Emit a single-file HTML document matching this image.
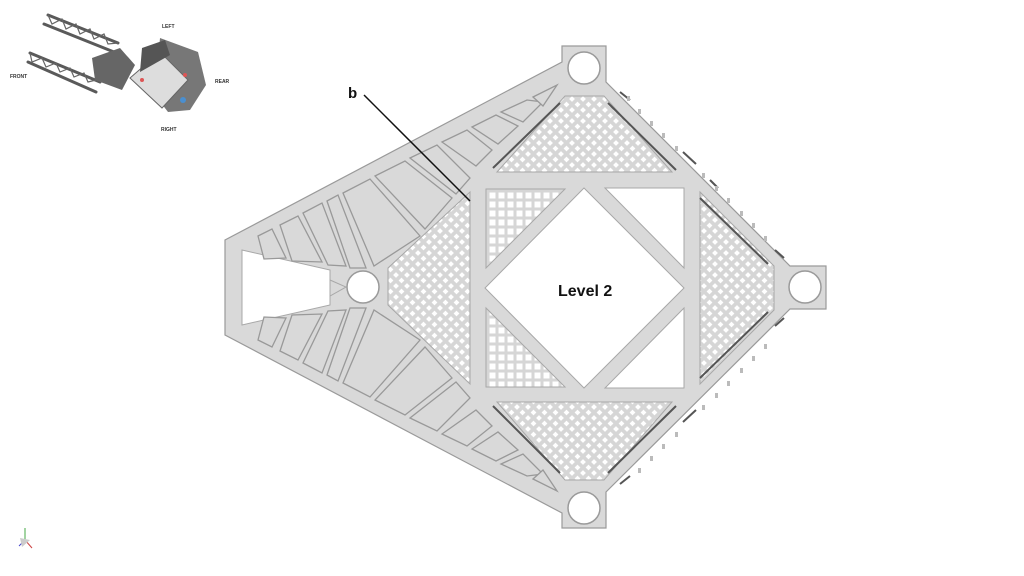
<!DOCTYPE html>
<html><head><style>
html,body{margin:0;padding:0;background:#fff;}
svg{display:block;}
text{font-family:"Liberation Sans",sans-serif;}
</style></head><body>
<svg width="1024" height="576" viewBox="0 0 1024 576" xmlns="http://www.w3.org/2000/svg">
<defs>
<pattern id="dia" width="11" height="11" patternUnits="userSpaceOnUse">
<rect width="11" height="11" fill="#d6d6d6"/>
<polygon points="5.5,2.6 8.4,5.5 5.5,8.4 2.6,5.5" fill="#fff"/>
<polygon points="0,-2.9 2.9,0 0,2.9 -2.9,0" fill="#fff"/>
<polygon points="11,-2.9 13.9,0 11,2.9 8.1,0" fill="#fff"/>
<polygon points="0,8.1 2.9,11 0,13.9 -2.9,11" fill="#fff"/>
<polygon points="11,8.1 13.9,11 11,13.9 8.1,11" fill="#fff"/>
</pattern>
<pattern id="sq" x="488" y="191" width="9" height="9" patternUnits="userSpaceOnUse">
<rect width="9" height="9" fill="#d6d6d6"/>
<rect x="1.5" y="1.5" width="6" height="6" fill="#fff"/>
</pattern>
</defs>

<polygon points="562,46 606,46 606,82 790,266 826,266 826,309 790,309 606,492 606,528 562,528 562,513 225,335 225,240 562,62" fill="#d9d9d9" stroke="#9a9a9a" stroke-width="1.2"/>

<polygon points="584,188 684,288 584,388 485,288" fill="#fff" stroke="#a8a8a8"/>
<polygon points="605,188 684,188 684,268" fill="#fff" stroke="#a8a8a8"/>
<polygon points="684,308 684,388 605,388" fill="#fff" stroke="#a8a8a8"/>
<polygon points="242,250 330,270 330,305 242,325" fill="#fff" stroke="#a8a8a8"/>
<polygon points="330,280 346,287 330,296" fill="#d9d9d9" stroke="#a8a8a8"/>

<polygon points="486,189 565,189 486,268" fill="url(#sq)" stroke="#a8a8a8"/>
<polygon points="486,308 486,387 565,387" fill="url(#sq)" stroke="#a8a8a8"/>

<polygon points="497,172 672,172 604,96 565,96" fill="url(#dia)" stroke="#a8a8a8"/>
<polygon points="700,192 700,384 774,310 774,266" fill="url(#dia)" stroke="#a8a8a8"/>
<polygon points="497,402 672,402 604,480 565,480" fill="url(#dia)" stroke="#a8a8a8"/>
<polygon points="470,192 470,384 388,305 388,268" fill="url(#dia)" stroke="#a8a8a8"/>

<g stroke="#555" stroke-width="2">
<line x1="493" y1="168" x2="560" y2="103"/>
<line x1="608" y1="103" x2="676" y2="170"/>
<line x1="700" y1="198" x2="768" y2="264"/>
<line x1="700" y1="378" x2="768" y2="312"/>
<line x1="493" y1="406" x2="560" y2="473"/>
<line x1="608" y1="473" x2="676" y2="406"/>
<line x1="620" y1="92" x2="630" y2="100"/>
<line x1="683" y1="152" x2="696" y2="164"/>
<line x1="710" y1="180" x2="718" y2="188"/>
<line x1="775" y1="250" x2="784" y2="258"/>
<line x1="784" y1="318" x2="775" y2="326"/>
<line x1="696" y1="410" x2="683" y2="422"/>
<line x1="630" y1="476" x2="620" y2="484"/>
</g>
<g fill="#bbb">
<rect x="627" y="96" width="3" height="5"/><rect x="638" y="109" width="3" height="5"/><rect x="650" y="121" width="3" height="5"/>
<rect x="662" y="133" width="3" height="5"/><rect x="675" y="146" width="3" height="5"/><rect x="702" y="173" width="3" height="5"/>
<rect x="715" y="186" width="3" height="5"/><rect x="727" y="198" width="3" height="5"/><rect x="740" y="211" width="3" height="5"/>
<rect x="752" y="223" width="3" height="5"/><rect x="764" y="236" width="3" height="5"/>
<rect x="764" y="344" width="3" height="5"/><rect x="752" y="356" width="3" height="5"/><rect x="740" y="368" width="3" height="5"/>
<rect x="727" y="381" width="3" height="5"/><rect x="715" y="393" width="3" height="5"/><rect x="702" y="405" width="3" height="5"/>
<rect x="675" y="432" width="3" height="5"/><rect x="662" y="444" width="3" height="5"/><rect x="650" y="456" width="3" height="5"/>
<rect x="638" y="468" width="3" height="5"/>
</g>

<g id="panels" fill="#d9d9d9" stroke="#999" stroke-width="1.3">
<polygon points="258,236 272,229 286,258 264,259"/>
<polygon points="280,225 298,216 322,262 292,261"/>
<polygon points="303,213 322,203 346,266 328,265"/>
<polygon points="327,201 338,195 366,268 350,268"/>
<polygon points="343,193 370,179 420,236 374,266"/>
<polygon points="375,176 405,161 452,198 425,229"/>
<polygon points="410,158 437,145 470,178 456,194"/>
<polygon points="442,142 467,130 492,150 476,166"/>
<polygon points="472,127 496,115 518,126 498,144"/>
<polygon points="501,112 527,100 543,102 523,122"/>
<polygon points="533,97 557,85 543,106"/>
</g>
<use href="#panels" transform="translate(0,576) scale(1,-1)"/>

<g fill="#fff" stroke="#9a9a9a" stroke-width="1.5">
<circle cx="584" cy="68" r="16"/>
<circle cx="805" cy="287" r="16"/>
<circle cx="584" cy="508" r="16"/>
<circle cx="363" cy="287" r="16"/>
</g>

<line x1="364" y1="95" x2="470" y2="201" stroke="#111" stroke-width="1.5"/>
<text x="348" y="98" font-size="15" font-weight="bold" fill="#111">b</text>
<text x="558" y="296" font-size="16" font-weight="bold" fill="#111">Level 2</text>

<!-- thumbnail -->
<g stroke="#5a5a5a" stroke-width="3" stroke-linecap="round" fill="none">
<line x1="48" y1="15" x2="118" y2="43"/>
<line x1="44" y1="24" x2="114" y2="52"/>
<line x1="30" y1="53" x2="100" y2="82"/>
<line x1="28" y1="62" x2="96" y2="92"/>
</g>
<g stroke="#666" stroke-width="1.2" fill="none">
<path d="M48,15 L52,24 L62,19 L66,29 L76,24 L80,34 L90,29 L94,39 L104,34 L108,44 L118,43"/>
<path d="M30,53 L32,62 L42,58 L46,67 L56,63 L60,72 L70,68 L74,77 L84,73 L88,82 L96,80"/>
</g>
<polygon points="92,58 120,48 135,65 122,90 95,80" fill="#666"/>
<polygon points="160,38 198,52 206,85 190,110 168,112 155,95" fill="#777"/>
<polygon points="130,78 160,52 188,80 162,108" fill="#ddd" stroke="#666"/>
<polygon points="142,48 165,40 170,55 140,72" fill="#555"/>
<circle cx="183" cy="100" r="3" fill="#4a8fd0"/>
<circle cx="185" cy="75" r="2" fill="#d55"/>
<circle cx="142" cy="80" r="2" fill="#d55"/>
<g font-size="5" font-weight="bold" fill="#333">
<text x="162" y="28">LEFT</text>
<text x="10" y="78">FRONT</text>
<text x="215" y="83">REAR</text>
<text x="161" y="131">RIGHT</text>
</g>

<g stroke-width="1">
<line x1="25" y1="540" x2="32" y2="548" stroke="#c44"/>
<line x1="25" y1="540" x2="25" y2="528" stroke="#4a4"/>
<line x1="25" y1="540" x2="19" y2="546" stroke="#44c"/>
</g>
<polygon points="20,538 30,540 22,547" fill="#ccc"/>
</svg>
</body></html>
